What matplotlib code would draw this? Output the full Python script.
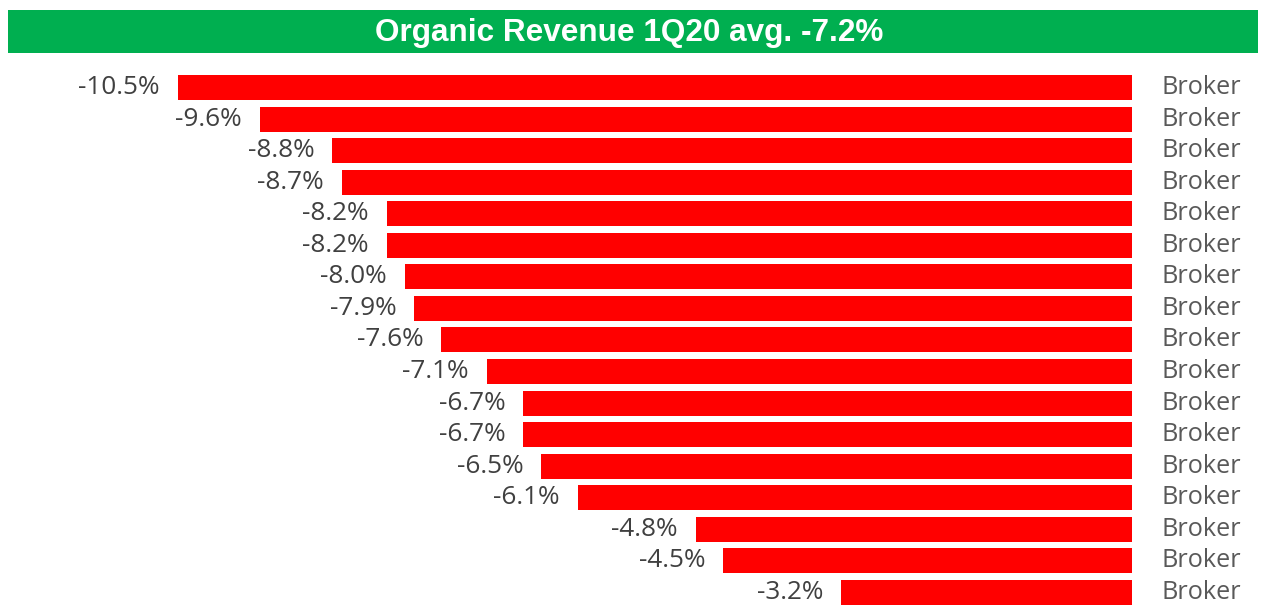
"""Organic revenue 1Q20 bar chart (horizontal, negative values)."""

import matplotlib

matplotlib.use("Agg")

import matplotlib.pyplot as plt

TITLE = "Organic Revenue 1Q20 avg. -7.2%"
VALUES = [-10.5, -9.6, -8.8, -8.7, -8.2, -8.2, -8.0, -7.9, -7.6, -7.1,
          -6.7, -6.7, -6.5, -6.1, -4.8, -4.5, -3.2]
CATEGORIES = ["Broker"] * len(VALUES)

BAR_COLOR = "#FF0000"
BANNER_COLOR = "#00AF50"
VALUE_COLOR = "#404040"
CATEGORY_COLOR = "#595959"

W, H = 1261, 605
PX_PER_PCT = 90.86
ZERO_X = 1132
STEP = 31.56
FIRST_CENTER = 87.5


def main() -> None:
    fig = plt.figure(figsize=(W / 100, H / 100), dpi=100)
    fig.patch.set_facecolor("white")

    # green title banner
    banner = fig.add_axes([8 / W, 1 - 53 / H, 1250 / W, 43 / H])
    banner.set_facecolor(BANNER_COLOR)
    banner.set_xticks([])
    banner.set_yticks([])
    for spine in banner.spines.values():
        spine.set_visible(False)
    banner.text(0.497, 0.47, TITLE, transform=banner.transAxes, ha="center", va="center",
                color="white", fontsize=22.7, fontweight="bold", family="Liberation Sans")

    # bar area: top at pixel 60, bottom at figure edge
    top_px = 60
    ax = fig.add_axes([0, 0, ZERO_X / W, (H - top_px) / H])
    n = len(VALUES)
    ax.set_xlim(-ZERO_X / PX_PER_PCT, 0)
    y_top = -(FIRST_CENTER - top_px) / STEP
    y_bottom = (n - 1) + (H - (FIRST_CENTER + (n - 1) * STEP)) / STEP
    ax.set_ylim(y_bottom, y_top)
    ax.axis("off")

    positions = list(range(n))
    ax.barh(positions, VALUES, height=25 / STEP, color=BAR_COLOR, left=0)

    gap = 18 / PX_PER_PCT
    for pos, val, cat in zip(positions, VALUES, CATEGORIES):
        ax.text(val - gap, pos, f"{val:.1f}%", ha="right", va="center",
                fontsize=18.8, color=VALUE_COLOR, family="Open Sans")
        ax.text(29 / PX_PER_PCT, pos, cat, ha="left", va="center",
                fontsize=18.2, color=CATEGORY_COLOR, family="Open Sans", clip_on=False)

    fig.savefig("out.png", dpi=100, facecolor="white")
    plt.close(fig)


if __name__ == "__main__":
    main()
